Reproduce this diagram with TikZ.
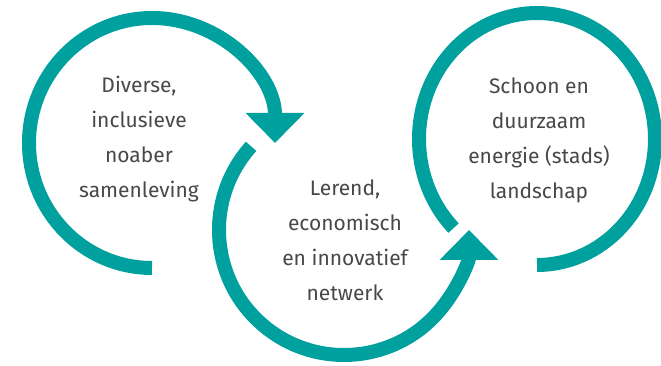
\documentclass[tikz,border=0pt]{standalone}
\usepackage{fontspec}
\setmainfont{Fira Sans}
\usetikzlibrary{arrows.meta,bending}
\definecolor{ringteal}{RGB}{0,160,158}
\definecolor{textgrey}{RGB}{72,72,72}

\begin{document}
\begin{tikzpicture}[x=1pt,y=1pt,
  ring/.style={draw=ringteal,line width=14pt},
  ring arrow/.style={ring,-{Triangle[width=57pt,length=30pt,quick]}},
  main node/.style={align=center,text=textgrey,font=\fontsize{21}{35}\selectfont}]

  \clip (0,0) rectangle (661,366);

  \coordinate (c1) at (152,223);
  \coordinate (c2) at (344,136);
  \coordinate (c3) at (537,227);

  \node[main node] (1) at (139,227) {Diverse,\\inclusieve\\noaber\\samenleving};
  \node[main node] (2) at (345,126) {Lerend,\\economisch\\en innovatief\\netwerk};
  \node[main node] (3) at (539,226) {Schoon en\\duurzaam\\energie (stads)\\landschap};

  \draw[ring arrow] (c1) ++(270:123 and 125)
    arc[start angle=270,end angle=0,x radius=123,y radius=125];
  \draw[ring arrow] (c2) ++(138:125)
    arc[start angle=138,end angle=360,radius=125];
  \draw[ring] (c3) ++(225:118 and 126)
    arc[start angle=225,end angle=-90,x radius=118,y radius=126];
\end{tikzpicture}
\end{document}
